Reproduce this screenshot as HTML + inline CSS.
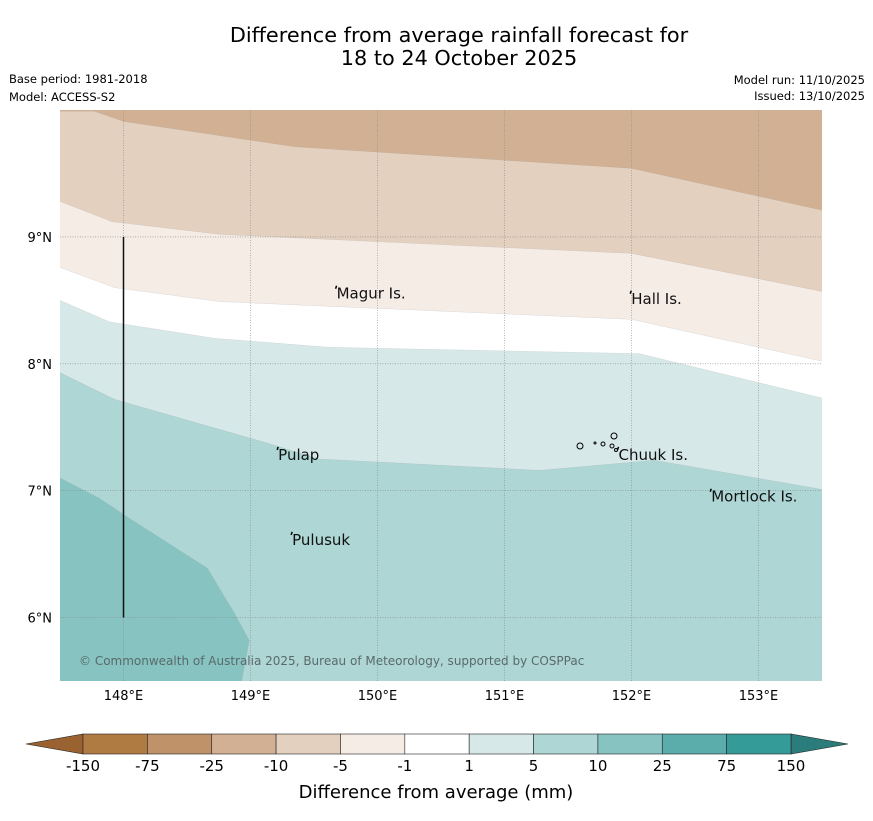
<!DOCTYPE html>
<html><head><meta charset="utf-8"><style>
body{margin:0;background:#fff;font-family:"Liberation Sans","DejaVu Sans",sans-serif;}
#wrap{position:relative;width:873px;height:816px;}
</style></head><body>
<div id="wrap">
<svg id="svg" width="873" height="816" xmlns="http://www.w3.org/2000/svg" font-family="DejaVu Sans, Liberation Sans, sans-serif">
<text x="459" y="42" text-anchor="middle" font-size="20.8">Difference from average rainfall forecast for</text>
<text x="459" y="65" text-anchor="middle" font-size="20.8">18 to 24 October 2025</text>
<text x="9" y="83" font-size="11.5">Base period: 1981-2018</text>
<text x="9" y="101" font-size="11.5">Model: ACCESS-S2</text>
<text x="865" y="84" font-size="11.5" text-anchor="end">Model run: 11/10/2025</text>
<text x="865" y="100" font-size="11.5" text-anchor="end">Issued: 13/10/2025</text>
<defs><clipPath id="mc"><rect x="60" y="110" width="762" height="571"/></clipPath></defs>
<g id="map" clip-path="url(#mc)"></g>
<g id="cbar"></g>
<text x="436" y="798" text-anchor="middle" font-size="18">Difference from average (mm)</text>
</svg>
</div>
<script>
const lonMin=147.5, lonMax=153.5, latMin=5.5, latMax=10;
const lonTicks=[148,149,150,151,152,153];
const latTicks=[6,7,8,9];
const bandColors=["#d2b093","#e3d0bf","#f5ece6","#ffffff","#d6e9e8","#add6d5","#86c3c1"];
const boundaryA=[[147.77,9.99],[148,9.91],[149.35,9.71],[152,9.54],[153.5,9.21]];
const boundaryB=[[147.5,9.28],[147.91,9.12],[148.76,9.02],[152,8.87],[153.5,8.57]];
const boundaryC=[[147.5,8.76],[147.93,8.60],[148.76,8.49],[152,8.35],[153.5,8.02]];
const boundaryD=[[147.5,8.50],[147.89,8.33],[148.72,8.20],[149.62,8.13],[152.06,8.08],[153.5,7.73]];
const boundaryE=[[147.5,7.93],[147.93,7.72],[149.15,7.37],[149.54,7.25],[151.28,7.16],[152.18,7.24],[153.5,7.01]];
const boundaryF=[[147.5,7.10],[147.81,6.94],[148.05,6.78],[148.66,6.39],[148.87,6.04],[148.99,5.82],[148.93,5.5]];
const places=["Magur Is.","Hall Is.","Pulap","Chuuk Is.","Mortlock Is.","Pulusuk"];
const placeLon=[149.67,151.99,149.21,151.89,152.62,149.32];
const placeLat=[8.56,8.52,7.29,7.29,6.96,6.62];
const cbLabels=["-150","-75","-25","-10","-5","-1","1","5","10","25","75","150"];
const cbColors=["#b07a43","#c0926a","#d2b093","#e3d0bf","#f5ece6","#ffffff","#d6e9e8","#add6d5","#86c3c1","#5aadaa","#359b98"];
const NS="http://www.w3.org/2000/svg";
const X=lon=>60+(lon-lonMin)/(lonMax-lonMin)*762;
const Y=lat=>110+(latMax-lat)/(latMax-latMin)*571;
function mk(tag,attrs,parent){const e=document.createElementNS(NS,tag);for(const k in attrs)e.setAttribute(k,attrs[k]);parent.appendChild(e);return e;}
const map=document.getElementById('map');
let r=mk('rect',{x:60,y:110,width:762,height:571,fill:bandColors[0]},map);


const bounds=[boundaryA,boundaryB,boundaryC,boundaryD,boundaryE];
bounds.forEach((b,i)=>{
  const pts=b.concat([[lonMax+0.1,b[b.length-1][1]],[lonMax+0.1,latMin-0.1],[lonMin-0.1,latMin-0.1],[lonMin-0.1,b[0][1]]]);
  const p=mk('polygon',{points:pts.map(q=>X(q[0])+','+Y(q[1])).join(' '),fill:bandColors[i+1],stroke:'#999','stroke-width':0.3,'stroke-opacity':0.5},map);
  
  
});
{
  const b=boundaryF;
  const pts=b.concat([[lonMin-0.1,latMin-0.1],[lonMin-0.1,b[0][1]]]);
  const p=mk('polygon',{points:pts.map(q=>X(q[0])+','+Y(q[1])).join(' '),fill:bandColors[6],stroke:'#999','stroke-width':0.3,'stroke-opacity':0.5},map);
  
  
}
lonTicks.forEach(l=>{
  const g=mk('line',{x1:X(l),x2:X(l),y1:110,y2:681,stroke:'#888','stroke-width':0.6,'stroke-dasharray':'1,1.5'},map);
  
  
});
latTicks.forEach(l=>{
  const g=mk('line',{x1:60,x2:822,y1:Y(l),y2:Y(l),stroke:'#888','stroke-width':0.6,'stroke-dasharray':'1,1.5'},map);
  
  
});
const svg=document.getElementById('svg');
let vl=mk('line',{x1:X(148),x2:X(148),y1:Y(9),y2:Y(6),stroke:'#111','stroke-width':1.5},svg);


places.forEach((n,i)=>{
  const x=X(placeLon[i]),y=Y(placeLat[i]);
  const m=mk('path',{d:`M${x} ${y-4} l1 -3`,stroke:'#000','stroke-width':1.5,fill:'none'},svg);
  
  
  const t=mk('text',{x:x+1,y:y+6,'font-size':15,fill:'#111'},svg);
  t.textContent=n;
  
  
});
const ch=mk('g',{stroke:'#000','stroke-width':1,fill:'none'},svg);


[[580,446,3],[595,443,1],[603,444,2],[612,446,2],[614,436,3],[616,450,1.5]].forEach(c=>mk('circle',{cx:c[0],cy:c[1],r:c[2]},ch));
lonTicks.forEach(l=>{
  const t=mk('text',{x:X(l),y:700,'font-size':13,'text-anchor':'middle'},svg);
  t.textContent=l+'°E';
  
  
});
latTicks.forEach(l=>{
  const t=mk('text',{x:52,y:Y(l)+5,'font-size':13,'text-anchor':'end'},svg);
  t.textContent=l+'°N';
  
  
});
let cp=mk('text',{x:79,y:665,'font-size':12,fill:'#5a6a6a'},svg);
cp.textContent='© Commonwealth of Australia 2025, Bureau of Meteorology, supported by COSPPac';


const cb=document.getElementById('cbar');
const cx0=83,cw=(791-83)/cbColors.length,cy=734,chh=20;
let lt=mk('polygon',{points:`26,744 ${cx0},${cy} ${cx0},${cy+chh}`,fill:'#9a6230',stroke:'#222','stroke-width':0.6},cb);


let rt=mk('polygon',{points:`848,744 791,${cy} 791,${cy+chh}`,fill:'#2a7d7a',stroke:'#222','stroke-width':0.6},cb);


cbColors.forEach((c,i)=>{
  const b=mk('rect',{x:cx0+i*cw,y:cy,width:cw,height:chh,fill:c,stroke:'#222','stroke-width':0.6},cb);
  
  
});
cbLabels.forEach((l,i)=>{
  const t=mk('text',{x:cx0+i*cw,y:771,'font-size':15,'text-anchor':'middle'},cb);
  t.textContent=l;
  
  
});
</script>
</body></html>
